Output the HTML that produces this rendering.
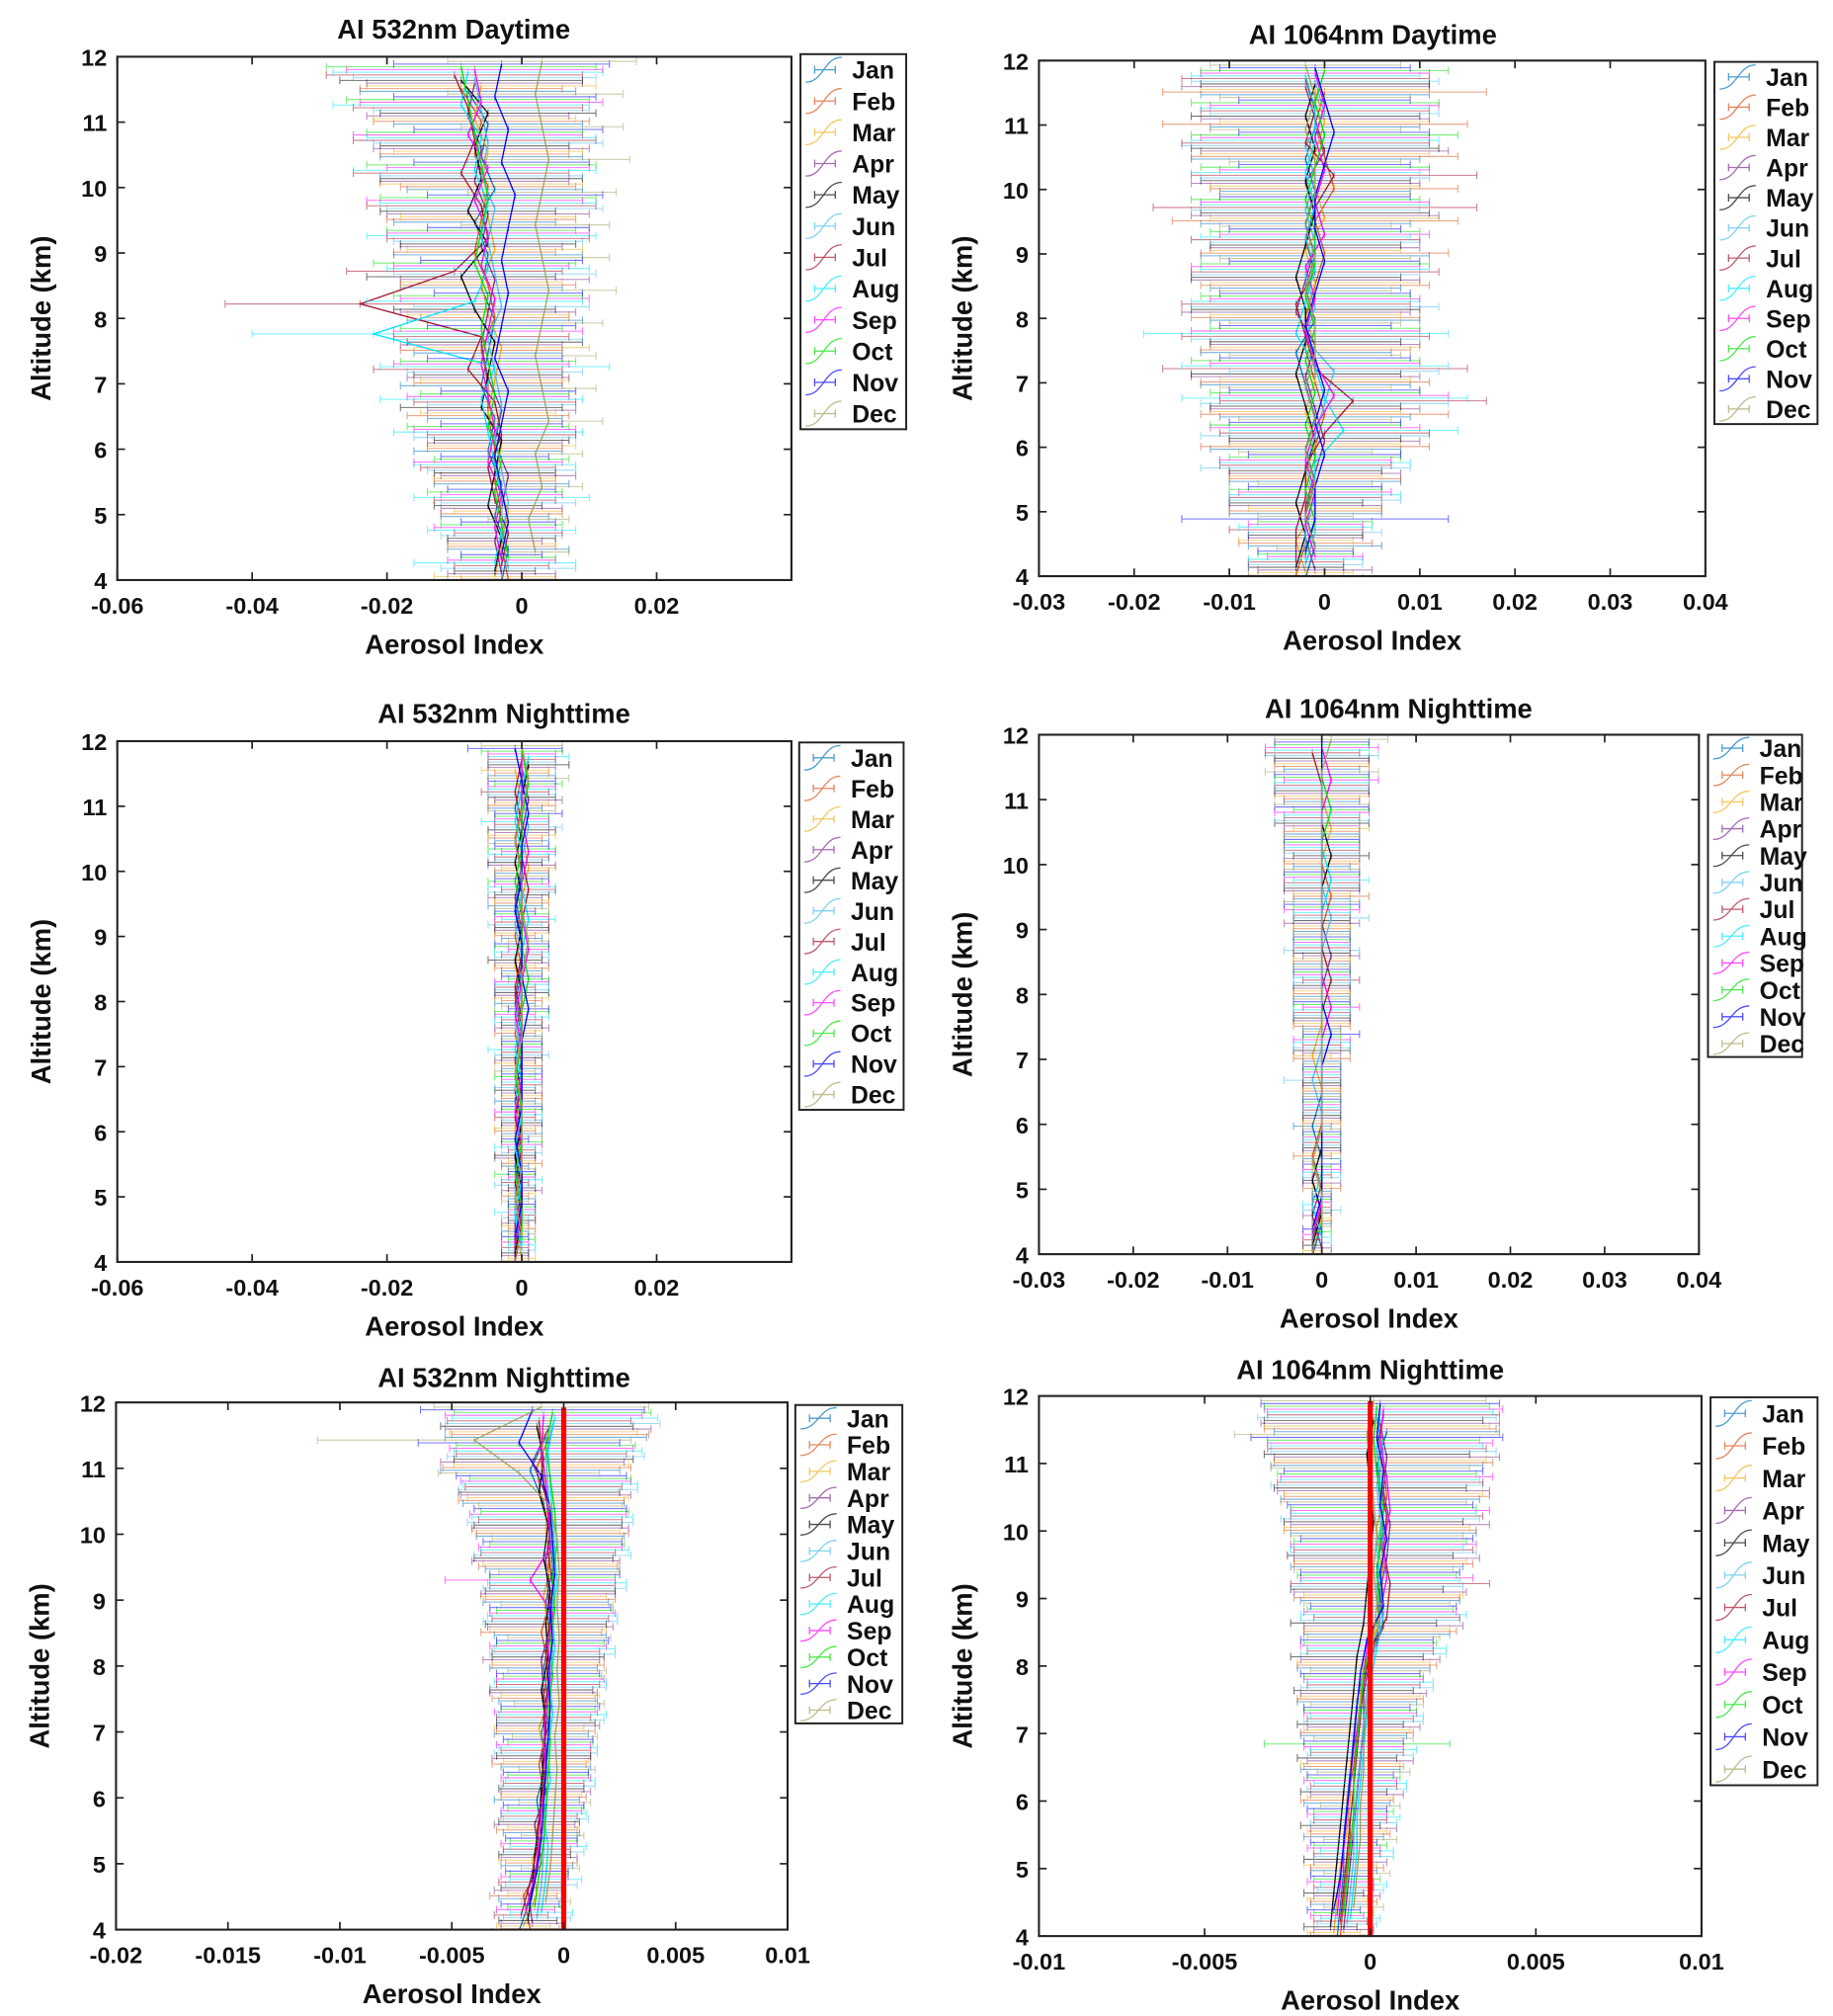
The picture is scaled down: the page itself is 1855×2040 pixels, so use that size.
<!DOCTYPE html>
<html><head><meta charset="utf-8"><style>
html,body{margin:0;padding:0;background:#fff;}
svg{display:block;}
text{font-family:"Liberation Sans",Arial,sans-serif;font-weight:bold;fill:#111;}
</style></head><body>
<svg id="fig" width="1855" height="2040" viewBox="0 0 1422 1564" preserveAspectRatio="none" xmlns="http://www.w3.org/2000/svg"></svg>
<script>
const months = ["Jan","Feb","Mar","Apr","May","Jun","Jul","Aug","Sep","Oct","Nov","Dec"];
const colors = ["#0072BD","#D95319","#EDB120","#7E2F8E","#000000","#4DBEEE","#A2142F","#00E5FF","#FF00FF","#00E000","#0000FF","#A0A060"];
const altitudes = [4.2,4.7,5.2,5.7,6.2,6.7,7.2,7.7,8.2,8.7,9.2,9.7,10.2,10.7,11.2,11.7];

// Plot 1: AI 532nm daytime (values x1e-3)
const mean1 = [
[-3,-2,-4,-3,-5,-4,-6,-5,-4,-6,-5,-7,-4,-6,-5,-8],
[-2,-3,-3,-4,-4,-5,-5,-6,-4,-5,-7,-6,-5,-7,-6,-9],
[-4,-3,-2,-4,-3,-5,-4,-3,-5,-6,-4,-5,-6,-5,-7,-6],
[-3,-4,-3,-2,-4,-3,-5,-6,-5,-4,-6,-5,-7,-6,-8,-7],
[-4,-3,-5,-4,-3,-6,-5,-4,-7,-9,-5,-8,-6,-7,-5,-9],
[-2,-3,-2,-3,-4,-3,-4,-5,-3,-4,-5,-4,-6,-5,-6,-7],
[-3,-2,-4,-5,-3,-4,-8,-6,-24,-10,-5,-6,-9,-7,-8,-10],
[-4,-3,-3,-4,-5,-6,-4,-22,-7,-5,-6,-5,-7,-6,-9,-8],
[-3,-4,-3,-5,-4,-5,-6,-5,-4,-6,-5,-7,-5,-8,-6,-7],
[-2,-3,-4,-3,-5,-4,-5,-6,-5,-7,-6,-5,-6,-7,-8,-9],
[-3,-2,-3,-4,-3,-2,-4,-3,-2,-3,-2,-1,-3,-2,-4,-3],
[2,1,3,2,4,3,2,3,4,3,2,3,4,3,2,3]];
const err1 = [
[8,9,8,10,11,10,12,11,13,12,14,12,13,15,14,16],
[7,8,9,9,10,12,11,12,11,13,12,14,13,14,16,15],
[9,8,8,9,11,10,11,13,12,12,13,13,15,14,15,17],
[8,7,9,10,10,11,12,12,13,14,12,15,14,16,15,16],
[6,8,8,9,10,12,11,13,12,14,13,13,15,14,16,18],
[10,9,10,11,12,11,13,14,13,15,14,16,15,17,16,18],
[7,8,9,10,11,12,14,13,20,16,15,17,16,18,17,19],
[12,11,13,12,14,15,17,18,16,15,17,16,18,17,19,20],
[8,9,9,11,12,12,13,14,14,13,15,16,15,17,18,19],
[7,9,10,10,12,11,13,12,14,15,14,16,17,16,18,20],
[6,7,8,8,9,10,10,11,11,12,12,13,13,14,15,16],
[5,6,6,7,8,8,9,9,10,10,11,11,12,12,13,14]];

// Plot 2: AI 1064nm daytime (x1e-3)
const mean2 = [
[-2,-1,-2,-1,-2,-1,-2,-3,-1,-2,-1,-2,-1,-2,-1,-1],
[-3,-2,-2,-1,-1,0,-1,-2,-2,-1,0,-1,1,0,-1,0],
[-2,-3,-1,-2,-1,-2,-1,-1,-2,-1,-2,0,-1,-1,0,-1],
[-1,-2,-2,-1,0,-1,-2,-1,-3,-2,-1,-1,-2,0,-1,-2],
[-3,-2,-3,-2,-1,-2,-3,-2,-2,-3,-2,-1,-2,-1,-2,-1],
[-2,-1,-1,-2,-1,0,1,-2,-1,-2,-1,-2,-1,-2,0,-1],
[-3,-3,-2,-2,0,3,-1,-2,-3,-1,-2,-1,1,-2,-1,-2],
[-2,-2,-1,-1,2,0,-1,-3,-2,-1,-2,-1,-2,-1,-1,-2],
[-1,-2,-1,-2,-1,1,-1,-2,-1,-2,0,-1,0,-1,0,-1],
[-2,-1,-2,-1,-2,-1,-2,-1,-2,-1,-1,-2,-1,0,-1,0],
[-2,-1,-1,0,-1,0,-1,-2,-1,0,-1,-1,0,1,0,-1],
[-1,-2,-1,-2,-1,-2,-1,-1,-2,-1,-2,-1,-1,-2,-1,-2]];
const err2 = [
[6,7,8,9,10,10,11,10,11,10,12,11,10,12,11,12],
[5,7,8,9,12,13,12,11,12,12,13,15,13,14,16,17],
[5,6,7,8,9,10,10,11,10,11,10,12,11,12,11,12],
[6,6,8,9,10,11,12,11,12,12,11,13,12,13,12,13],
[5,6,7,8,9,10,11,10,12,11,10,12,11,13,12,12],
[6,7,9,11,12,13,11,12,13,12,11,12,12,13,12,13],
[5,7,8,9,11,14,16,13,12,13,12,17,15,13,12,13],
[6,7,9,10,12,15,14,16,12,12,11,12,12,13,12,12],
[5,6,8,9,11,12,11,12,11,12,11,12,11,12,12,12],
[5,6,8,9,10,11,12,11,11,12,11,12,12,14,13,13],
[5,14,7,8,9,10,10,9,10,10,9,10,9,10,9,10],
[4,5,6,7,8,9,9,9,9,10,9,10,9,10,10,10]];

// Plot 3: AI 532nm nighttime, top x-range (x1e-3)
const mean3 = [
[-1,-1,0,-1,0,-1,0,0,-1,0,0,-1,0,0,-1,0],
[-1,0,-1,0,-1,0,0,-1,0,0,-1,0,0,-1,0,0],
[0,-1,0,0,-1,0,-1,0,0,-1,0,0,1,0,0,-1],
[-1,-1,0,-1,0,0,-1,0,-1,0,0,-1,0,0,1,0],
[-1,0,0,-1,0,-1,0,0,0,-1,0,0,-1,0,0,1],
[0,-1,-1,0,0,-1,0,-1,0,0,-1,0,0,1,0,0],
[-1,0,-1,0,-1,0,0,0,-1,0,0,1,0,0,-1,0],
[0,-1,0,-1,0,0,-1,0,0,0,1,0,0,-1,0,1],
[-1,0,0,0,-1,0,0,-1,0,1,0,0,1,0,0,0],
[0,0,-1,0,0,-1,0,0,1,0,0,-1,0,0,1,0],
[-1,0,0,-1,0,0,0,1,0,0,-1,0,0,1,0,-1],
[0,-1,0,0,0,-1,0,0,0,1,0,0,-1,0,1,0]];
const err3 = [
[2,2,2,2,3,3,3,3,3,3,3,4,4,4,4,5],
[2,2,2,3,3,3,3,3,3,4,3,4,4,4,5,4],
[2,2,2,2,3,3,3,3,4,3,4,4,4,5,4,5],
[2,2,3,3,3,3,3,4,3,4,4,4,5,4,5,5],
[2,2,2,3,3,3,3,3,4,4,4,4,4,5,5,6],
[2,2,3,3,3,3,4,3,4,4,4,5,4,5,5,5],
[2,2,2,2,3,3,3,3,3,3,4,4,4,4,5,5],
[2,3,3,3,3,3,4,4,4,4,4,5,5,5,5,6],
[2,2,2,3,3,3,3,3,4,3,4,4,4,4,5,5],
[2,2,3,3,3,3,3,4,3,4,4,4,5,4,5,6],
[2,2,2,2,3,3,3,3,3,4,3,4,4,5,5,7],
[2,2,2,3,3,3,3,3,3,3,4,4,4,5,6,6]];

// Plot 4: AI 1064nm nighttime, top x-range (x1e-3)
const mean4 = [
[-1,0,0,0,-1,0,0,0,0,0,0,0,0,0,0,0],
[0,0,0,-1,0,0,0,0,0,0,0,1,0,0,0,0],
[-1,0,0,0,0,0,-1,0,0,0,0,0,0,1,0,0],
[0,-1,0,0,0,0,0,0,0,1,0,0,0,0,0,0],
[-1,0,-1,0,0,0,0,0,0,0,0,0,1,0,0,0],
[0,0,0,0,0,-1,0,0,0,0,1,0,0,0,0,0],
[-1,0,0,0,0,0,0,0,1,0,0,0,0,0,0,-1],
[0,-1,0,0,0,0,0,0,0,0,0,1,0,0,0,0],
[-1,0,0,0,0,0,0,1,0,0,0,0,0,0,1,0],
[0,0,0,0,0,0,0,0,0,0,0,0,0,1,0,0],
[-1,0,0,0,0,0,1,0,0,0,0,0,0,0,0,0],
[0,0,-1,0,0,0,0,0,0,0,0,0,0,0,0,1]];
const err4 = [
[1,1,1,2,2,2,2,2,3,3,3,3,3,4,4,4],
[1,1,2,2,2,2,3,3,3,3,3,4,4,4,4,5],
[1,1,1,2,2,2,2,3,3,3,3,3,4,4,5,5],
[1,1,2,2,2,2,2,3,3,3,4,4,4,4,5,5],
[1,1,1,2,2,2,3,3,3,3,3,4,4,5,5,5],
[1,2,2,2,2,3,3,3,3,4,4,4,4,5,5,6],
[1,1,1,2,2,2,2,3,3,3,3,4,4,4,5,5],
[1,1,2,2,2,2,3,3,3,3,3,4,4,4,5,5],
[1,1,2,2,2,2,3,3,3,3,4,4,4,5,5,6],
[1,1,1,2,2,2,2,3,3,3,3,4,4,4,5,5],
[1,1,2,2,2,2,3,3,3,3,4,4,4,5,5,5],
[1,1,1,2,2,2,2,3,3,3,4,4,4,5,6,6]];

// Plot 5: AI 532nm nighttime, zoomed (x1e-4)
const mean5 = [
[-20,-15,-12,-10,-12,-8,-10,-7,-9,-6,-8,-5,-6,-9,-15,-8],
[-15,-18,-10,-12,-9,-11,-8,-9,-7,-10,-6,-7,-5,-10,-12,-6],
[-18,-12,-14,-9,-10,-8,-11,-6,-8,-7,-9,-6,-8,-7,-10,-9],
[-14,-16,-11,-13,-8,-10,-7,-9,-10,-6,-7,-8,-6,-8,-14,-7],
[-16,-14,-13,-11,-10,-9,-8,-10,-7,-8,-6,-9,-7,-11,-9,-12],
[-12,-10,-9,-8,-7,-8,-6,-7,-5,-6,-4,-5,-6,-7,-8,-5],
[-19,-15,-12,-11,-9,-8,-9,-7,-8,-6,-5,-7,-6,-9,-10,-11],
[-10,-8,-7,-9,-6,-7,-5,-6,-4,-5,-3,-4,-5,-6,-7,-4],
[-17,-13,-11,-10,-8,-9,-8,-6,-7,-5,-15,-6,-7,-8,-10,-9],
[-13,-11,-9,-8,-7,-6,-7,-5,-6,-4,-5,-3,-4,-6,-8,-5],
[-15,-12,-10,-9,-8,-7,-6,-7,-5,-6,-4,-5,-6,-10,-20,-14],
[-8,-6,-5,-4,-3,-4,-2,-3,-2,-3,-2,-3,-6,-20,-40,-10]];
const err5 = [
[12,14,16,17,19,20,21,22,24,25,28,30,33,36,40,45],
[13,15,16,18,19,21,22,23,25,27,29,31,34,37,42,44],
[12,13,15,16,18,19,20,22,24,26,28,30,33,36,39,42],
[14,15,17,18,20,22,23,24,26,28,30,33,35,38,41,46],
[13,14,16,18,19,21,22,23,25,27,29,31,33,36,40,43],
[15,16,18,19,21,23,24,26,28,30,32,35,37,40,44,48],
[12,14,15,17,18,20,21,23,24,26,28,30,32,35,38,41],
[14,16,17,19,20,22,24,25,27,29,31,33,36,39,42,46],
[13,15,17,18,20,21,23,24,26,28,38,32,35,38,41,44],
[12,13,15,17,18,19,21,22,24,26,28,30,33,36,40,44],
[13,14,16,18,19,20,22,23,25,27,29,31,34,38,45,50],
[11,13,14,16,17,19,20,22,23,25,27,29,32,36,70,48]];

// Plot 6: AI 1064nm nighttime, zoomed (x1e-4)
const mean6 = [
[-10,-9,-8,-8,-7,-6,-5,-4,-2,2,3,2,4,3,2,5],
[-9,-8,-7,-6,-7,-5,-4,-3,-1,3,2,4,3,5,4,3],
[-11,-10,-9,-7,-6,-6,-4,-3,-2,2,4,3,2,4,3,2],
[-8,-7,-6,-5,-4,-3,-2,-2,0,4,3,5,6,4,5,3],
[-12,-11,-10,-9,-8,-7,-6,-5,-4,-2,-1,0,1,0,-1,1],
[-7,-6,-5,-5,-4,-3,-2,-1,1,3,2,4,3,2,4,2],
[-9,-8,-7,-6,-5,-4,-3,-2,0,5,6,4,5,3,2,4],
[-6,-5,-4,-4,-3,-2,-1,0,2,4,3,2,4,3,2,3],
[-10,-9,-8,-7,-6,-5,-3,-2,-1,3,5,4,6,5,3,4],
[-8,-7,-6,-5,-5,-4,-3,-2,0,3,2,3,4,2,1,2],
[-11,-9,-8,-7,-6,-5,-4,-3,-1,4,3,5,3,4,2,3],
[-5,-4,-3,-3,-2,-2,-1,0,1,2,1,2,1,0,-1,1]];
const err6 = [
[8,9,10,12,13,15,16,18,20,22,24,26,28,30,32,34],
[9,10,11,12,14,15,17,19,21,23,25,27,29,31,33,35],
[8,9,11,12,13,15,16,18,20,22,24,26,28,30,32,34],
[9,10,11,13,14,16,17,19,21,24,26,28,30,32,34,36],
[8,9,10,12,13,15,16,18,20,22,23,25,27,29,31,33],
[9,10,12,13,15,16,18,20,22,24,26,28,30,32,34,36],
[8,9,10,11,13,14,16,17,19,22,30,27,29,31,33,35],
[9,10,11,13,14,16,17,19,21,25,24,26,28,30,32,34],
[8,10,11,12,14,15,17,18,20,23,26,28,30,32,34,36],
[9,10,11,12,14,28,17,18,20,22,24,26,28,30,32,34],
[8,9,10,12,13,15,16,18,20,22,24,26,28,30,38,36],
[9,10,11,12,14,15,17,18,20,22,24,26,28,30,40,34]];

const xticks1 = [-0.06,-0.04,-0.02,0,0.02];
const xticks2 = [-0.03,-0.02,-0.01,0,0.01,0.02,0.03,0.04];
const xticks5 = [-0.02,-0.015,-0.01,-0.005,0,0.005,0.01];
const xticks6 = [-0.01,-0.005,0,0.005,0.01];
const yticks = [4,5,6,7,8,9,10,11,12];

const plots = [
 {name:"ai-532nm-daytime",title:"AI 532nm Daytime",titleX:352,box:[91,44,614,450],xmin:-0.06,xmax:0.04,xticks:xticks1,means:mean1,errs:err1,unit:1e-3,legend:[621,42,703,333],titleY:22,red:false},
 {name:"ai-1064nm-daytime",title:"AI 1064nm Daytime",titleX:1065,box:[806,47,1323,447],xmin:-0.03,xmax:0.04,xticks:xticks2,means:mean2,errs:err2,unit:1e-3,legend:[1330,48,1410,329],titleY:26,red:false},
 {name:"ai-532nm-nighttime-wide",title:"AI 532nm Nighttime",titleX:391,box:[91,575,614,979],xmin:-0.06,xmax:0.04,xticks:xticks1,means:mean3,errs:err3,unit:1e-3,legend:[620,576,701,861],titleY:553,red:false},
 {name:"ai-1064nm-nighttime-wide",title:"AI 1064nm Nighttime",titleX:1085,box:[806,570,1318,973],xmin:-0.03,xmax:0.04,xticks:xticks2,means:mean4,errs:err4,unit:1e-3,legend:[1325,570,1398,820],titleY:549,red:false},
 {name:"ai-532nm-nighttime-zoom",title:"AI 532nm Nighttime",titleX:391,box:[90,1088,611,1497],xmin:-0.02,xmax:0.01,xticks:xticks5,means:mean5,errs:err5,unit:1e-4,legend:[617,1090,700,1337],titleY:1068,red:true},
 {name:"ai-1064nm-nighttime-zoom",title:"AI 1064nm Nighttime",titleX:1063,box:[806,1083,1320,1502],xmin:-0.01,xmax:0.01,xticks:xticks6,means:mean6,errs:err6,unit:1e-4,legend:[1327,1084,1410,1385],titleY:1062,red:true}
];

const NS="http://www.w3.org/2000/svg";
const svg=document.getElementById('fig');
function mk(tag,attrs,parent){const e=document.createElementNS(NS,tag);for(const k in attrs)e.setAttribute(k,attrs[k]);(parent||svg).appendChild(e);return e;}

plots.forEach((p,pi)=>{
  const g=mk('g',{});
  
  
  const [x0,y0,x1,y1]=p.box;
  const xs=v=>x0+(v-p.xmin)/(p.xmax-p.xmin)*(x1-x0);
  const ys=v=>y1-(v-4)/(12-4)*(y1-y0);
  const cid='clip'+pi;
  const cp=mk('clipPath',{id:cid},g);
  mk('rect',{x:x0,y:y0,width:x1-x0,height:y1-y0},cp);
  const data=mk('g',{'clip-path':'url(#'+cid+')'},g);
  
  
  p.means.forEach((row,mi)=>{
    const col=colors[mi];
    const sg=mk('g',{stroke:col,fill:'none'},data);
    
    
    const bars=mk('g',{'stroke-width':0.8,opacity:0.55},sg);
    const pts=[];
    row.forEach((m,li)=>{
      const alt=altitudes[li]+(mi-5.5)*0.5/12;
      const mv=m*p.unit, ev=p.errs[mi][li]*p.unit;
      const y=ys(alt), xa=xs(mv-ev), xb=xs(mv+ev), xm=xs(mv);
      pts.push(xm.toFixed(1)+','+y.toFixed(1));
      const b=mk('path',{d:`M${xa},${y}H${xb}M${xa},${y-3}v6M${xb},${y-3}v6M${xm},${y-3}v6`},bars);
      
      
    });
    const l=mk('polyline',{points:pts.join(' '),'stroke-width':1},sg);
    
    
  });
  if(p.red){
    const r=mk('line',{x1:xs(0),x2:xs(0),y1:y0+4,y2:y1,stroke:'#FF0000','stroke-width':4},g);
    
    
  }
  const bx=mk('rect',{x:x0,y:y0,width:x1-x0,height:y1-y0,fill:'none',stroke:'#222','stroke-width':1.6},g);
  
  
  p.xticks.forEach(t=>{
    const x=xs(t);
    mk('line',{x1:x,x2:x,y1:y1,y2:y1-6,stroke:'#222','stroke-width':1.3},g);
    mk('line',{x1:x,x2:x,y1:y0,y2:y0+6,stroke:'#222','stroke-width':1.3},g);
    const tx=mk('text',{x:x,y:y1+26,'text-anchor':'middle','font-size':18},g);
    tx.textContent=String(t);
    
    
  });
  yticks.forEach(t=>{
    const y=ys(t);
    mk('line',{x1:x0,x2:x0+6,y1:y,y2:y,stroke:'#222','stroke-width':1.3},g);
    mk('line',{x1:x1,x2:x1-6,y1:y,y2:y,stroke:'#222','stroke-width':1.3},g);
    const tx=mk('text',{x:x0-8,y:y+7,'text-anchor':'end','font-size':18},g);
    tx.textContent=String(t);
    
    
  });
  const tt=mk('text',{x:p.titleX,y:p.titleY+8,'text-anchor':'middle','font-size':21},g);
  tt.textContent=p.title;
  
  
  const xl=mk('text',{x:(x0+x1)/2,y:y1+57,'text-anchor':'middle','font-size':21},g);
  xl.textContent='Aerosol Index';
  
  
  const ycx=x0-52, ycy=(y0+y1)/2;
  const yl=mk('text',{x:ycx,y:ycy,'text-anchor':'middle','font-size':21,transform:`rotate(-90 ${ycx} ${ycy})`},g);
  yl.textContent='Altitude (km)';
  
  
  const [lx0,ly0,lx1,ly1]=p.legend;
  const lg=mk('g',{},g);
  
  
  mk('rect',{x:lx0,y:ly0,width:lx1-lx0,height:ly1-ly0,fill:'#fff',stroke:'#222','stroke-width':1.5},lg);
  const step=(ly1-ly0)/12;
  months.forEach((m,mi)=>{
    const cy=ly0+step*(mi+0.5);
    const h=Math.min(step*0.8,20);
    const eg=mk('g',{},lg);
    
    
    mk('path',{d:`M${lx0+4},${cy+h/2} C${lx0+18},${cy+h/2} ${lx0+18},${cy-h/2} ${lx0+32},${cy-h/2}M${lx0+11},${cy}H${lx0+27}M${lx0+11},${cy-3}v6M${lx0+27},${cy-3}v6`,stroke:colors[mi],'stroke-width':1,fill:'none',opacity:0.7},eg);
    const t=mk('text',{x:lx0+40,y:cy+7,'font-size':19},eg);
    t.textContent=m;
  });
});
</script>
</body></html>
